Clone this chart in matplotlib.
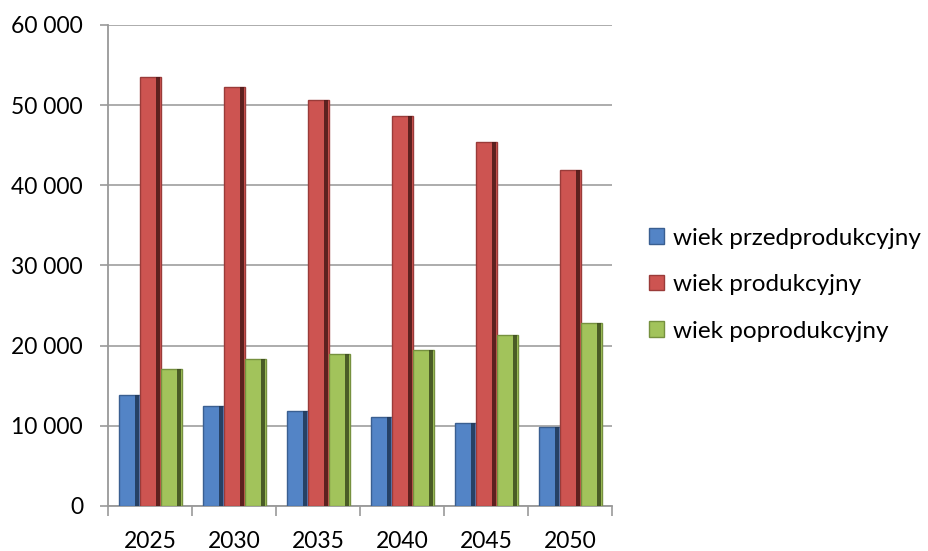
import numpy as np
import matplotlib
matplotlib.use("Agg")
import matplotlib.pyplot as plt
from matplotlib.ticker import FuncFormatter, MultipleLocator

years = ["2025", "2030", "2035", "2040", "2045", "2050"]
przedprodukcyjny = [13800, 12500, 11900, 11100, 10300, 9800]
produkcyjny = [53500, 52300, 50700, 48700, 45400, 41900]
poprodukcyjny = [17100, 18300, 19000, 19500, 21300, 22800]

series = [
    ("wiek przedprodukcyjny", przedprodukcyjny, "#5384c6", "#3a5f91", "#1f3654"),
    ("wiek produkcyjny", produkcyjny, "#cd5451", "#9a3b39", "#4a1817"),
    ("wiek poprodukcyjny", poprodukcyjny, "#a2c35b", "#76913f", "#3b4a1d"),
]

plt.rcParams['font.family'] = ['Lato', 'DejaVu Sans']

fig = plt.figure(figsize=(9.29, 5.51), dpi=100)
ax = fig.add_axes([0.1163, 0.0817, 0.5425, 0.873])

x = np.arange(len(years))
width = 0.25
side = 0.045

for i, (label, vals, face, edge, dark) in enumerate(series):
    pos = x + (i - 1) * width
    ax.bar(pos, vals, width=width, color=face, edgecolor=edge, linewidth=1.0,
           label=label, zorder=3)
    # darker right side for a bevelled look
    ax.bar(pos + width / 2 - side / 2 - 0.012, vals, width=side, color=dark,
           alpha=0.85, linewidth=0, zorder=4)

ax.set_xlim(-0.5, len(years) - 0.5)
ax.set_ylim(0, 60000)
ax.yaxis.set_major_locator(MultipleLocator(10000))
ax.yaxis.set_major_formatter(FuncFormatter(lambda v, p: f"{int(v):,}".replace(",", " ")))

ax.set_xticks(x)
ax.set_xticklabels(years)
ax.set_xticks(np.arange(len(years) + 1) - 0.5, minor=True)
ax.tick_params(axis="x", which="major", length=0, pad=18, labelsize=16.5, colors="#000000")
ax.tick_params(axis="x", which="minor", length=7, width=1.2, color="#999999")
ax.tick_params(axis="y", length=6, width=1.2, color="#999999", pad=12, labelsize=16.5)

ax.grid(axis="y", color="#a6a6a6", linewidth=1.3, zorder=0)
for s in ["top", "right"]:
    ax.spines[s].set_visible(False)
for s in ["left", "bottom"]:
    ax.spines[s].set_color("#999999")
    ax.spines[s].set_linewidth(1.3)

ax.legend(loc="center left", bbox_to_anchor=(1.055, 0.46), frameon=False, fontsize=17.5,
          handlelength=0.6, handleheight=0.6, handletextpad=0.35, labelspacing=1.05,
          borderaxespad=0)

fig.savefig("out.png", dpi=100)
